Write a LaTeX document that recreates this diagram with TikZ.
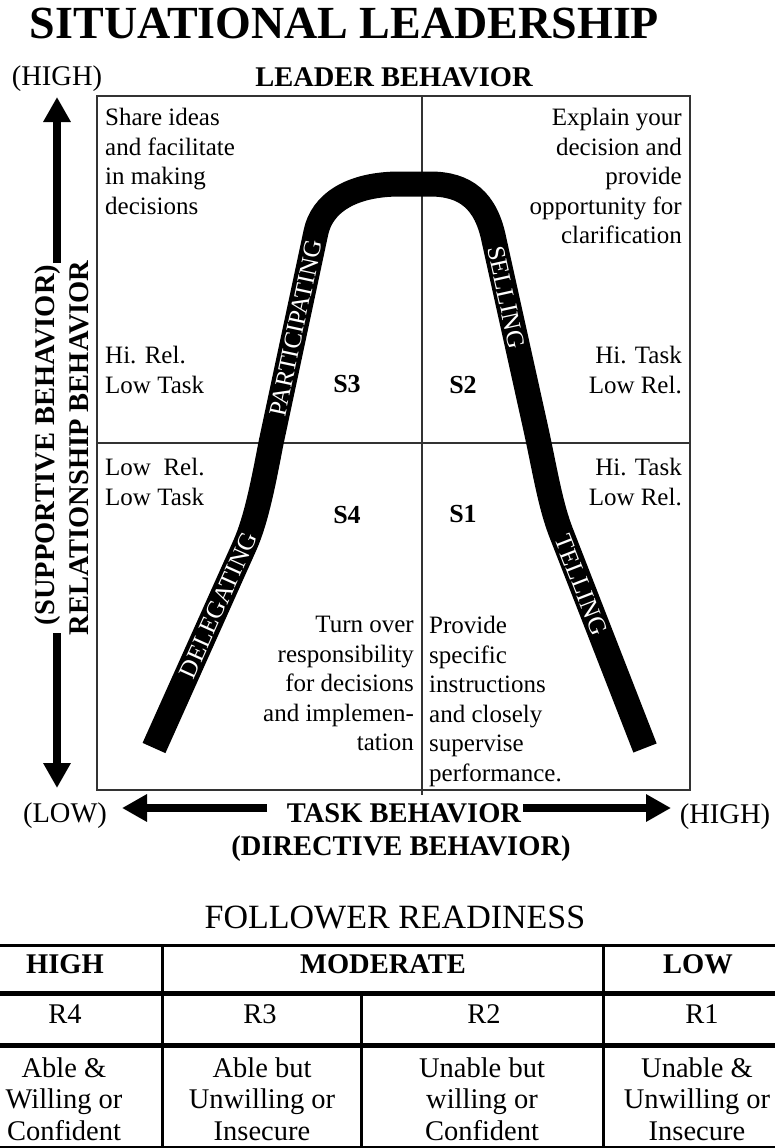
\documentclass[tikz,border=0pt]{standalone}
\usepackage{fontspec}
\setmainfont{Liberation Serif}
\usetikzlibrary{arrows.meta}

\begin{document}
\begin{tikzpicture}[x=1pt,y=-1pt,
	arrow/.style={line width=7.5pt,-{Triangle[length=25pt,width=26pt]}},
	txt/.style={inner sep=0pt,font=\fontsize{25}{29.5}\selectfont},
	lbl/.style={inner sep=0pt,font=\fontsize{28.5}{31.5}\selectfont},
	blbl/.style={inner sep=0pt,font=\bfseries\fontsize{28.5}{31.5}\selectfont},
	sq/.style={inner sep=0pt,anchor=base,font=\bfseries\fontsize{26}{30}\selectfont},
	band/.style={inner sep=0pt,sloped,text height=17pt,text depth=0pt,text=white,font=\fontsize{25}{30}\selectfont},
	grid/.style={line width=1.6pt,black!80},
	tab/.style={line width=3pt}]
	\useasboundingbox (0,0) rectangle (775,1148);
	% title and axis labels
	\node[inner sep=0pt,anchor=base,font=\bfseries\fontsize{46}{50}\selectfont] (title) at (344.5,39) {SITUATIONAL LEADERSHIP};
	\node[lbl,anchor=base] (yhigh) at (57,85) {(HIGH)};
	\node[blbl,anchor=base] (leader) at (394,86) {LEADER BEHAVIOR};
	\node[lbl,anchor=base] (xlow) at (65,822) {(LOW)};
	\node[lbl,anchor=base] (xhigh) at (725,823) {(HIGH)};
	\node[blbl,anchor=base] (task) at (404,822) {TASK BEHAVIOR};
	\node[blbl,anchor=base] (directive) at (401,855) {(DIRECTIVE BEHAVIOR)};
	\node[blbl,rotate=90] (supp) at (48,445) {(SUPPORTIVE BEHAVIOR)};
	\node[blbl,rotate=90] (rel) at (79,448) {RELATIONSHIP BEHAVIOR};
	% arrows
	\coordinate (vtop) at (57,97);
	\coordinate (vup) at (57,263);
	\coordinate (vdown) at (57,633);
	\coordinate (vbot) at (57,788);
	\coordinate (hleft) at (122,808);
	\coordinate (hl) at (267,808);
	\coordinate (hr) at (523,808);
	\coordinate (hright) at (671,808);
	\draw[arrow] (vup)--(vtop);
	\draw[arrow] (vdown)--(vbot);
	\draw[arrow] (hl)--(hleft);
	\draw[arrow] (hr)--(hright);
	% quadrants
	\draw[grid] (97,96) rectangle (690,790);
	\draw[grid] (422,96)--(422,795) (97,443)--(690,443);
	% the curve
	\draw[line width=25pt] (154,748) -- node[band,pos=0.704] (dele) {DELEGATING} (245,545)
		.. controls (256,520) and (263,485) .. (271,443) -- node[band,pos=0.545] (part) {PARTICIPATING} (316,232)
		.. controls (322,204) and (350,184) .. (400,184) -- (430,184)
		.. controls (465,184) and (486,200) .. (494,240) -- node[band,pos=0.31] (sell) {SELLING} (535,425)
		.. controls (545,470) and (550,505) .. (562,535) -- node[band,pos=0.235] (tell) {TELLING} (645,748);
	% quadrant texts
	\node[txt,anchor=north west,align=left] (share) at (105,108) {Share ideas\\and facilitate\\in making\\decisions};
	\node[txt,anchor=north east,align=right] (explain) at (682,108) {Explain your\\decision and\\provide\\opportunity for\\clarification};
	\node[txt,anchor=north west,align=left] (hirel) at (105,346) {Hi. Rel.\\Low Task};
	\node[txt,anchor=north east,align=right] (hitaskA) at (682,346) {Hi. Task\\Low Rel.};
	\node[txt,anchor=north west,align=left] (lowrel) at (105,458) {Low\ \ Rel.\\Low Task};
	\node[txt,anchor=north east,align=right] (hitaskB) at (682,458) {Hi. Task\\Low Rel.};
	\node[txt,anchor=north east,align=right] (turn) at (414,616) {Turn over\\responsibility\\for decisions\\and implemen-\\tation};
	\node[txt,anchor=north west,align=left] (provide) at (429,616) {Provide\\specific\\instructions\\and closely\\supervise\\performance.};
	\node[sq] (s3) at (347,392) {S3};
	\node[sq] (s2) at (463,393) {S2};
	\node[sq] (s4) at (347,523) {S4};
	\node[sq] (s1) at (463,522) {S1};
	% readiness table
	\node[inner sep=0pt,anchor=base,font=\fontsize{34}{38}\selectfont] (ready) at (395,928) {FOLLOWER READINESS};
	\draw[tab] (0,945)--(775,945) (0,1147)--(775,1147);
	\draw[tab,line width=5pt] (0,993)--(775,993) (0,1045)--(775,1045);
	\draw[tab] (162,945)--(162,1148) (603,945)--(603,1148) (361,993)--(361,1148);
	\node[blbl,anchor=base] (high) at (65,973) {HIGH};
	\node[blbl,anchor=base] (moderate) at (383,973) {MODERATE};
	\node[blbl,anchor=base] (low) at (698,973) {LOW};
	\foreach \nm/\xx/\rr in {r4/65/R4,r3/260/R3,r2/484/R2,r1/702/R1}
	\node[lbl,anchor=base] (\nm) at (\xx,1023) {\rr};
	\node[lbl,anchor=north,align=center] (able) at (64,1057.5) {Able \&\\Willing or\\Confident};
	\node[lbl,anchor=north,align=center] (ablebut) at (262,1057.5) {Able but\\Unwilling or\\Insecure};
	\node[lbl,anchor=north,align=center] (unablebut) at (482,1057.5) {Unable but\\willing or\\Confident};
	\node[lbl,anchor=north,align=center] (unable) at (697,1057.5) {Unable \&\\Unwilling or\\Insecure};
\end{tikzpicture}
\end{document}
